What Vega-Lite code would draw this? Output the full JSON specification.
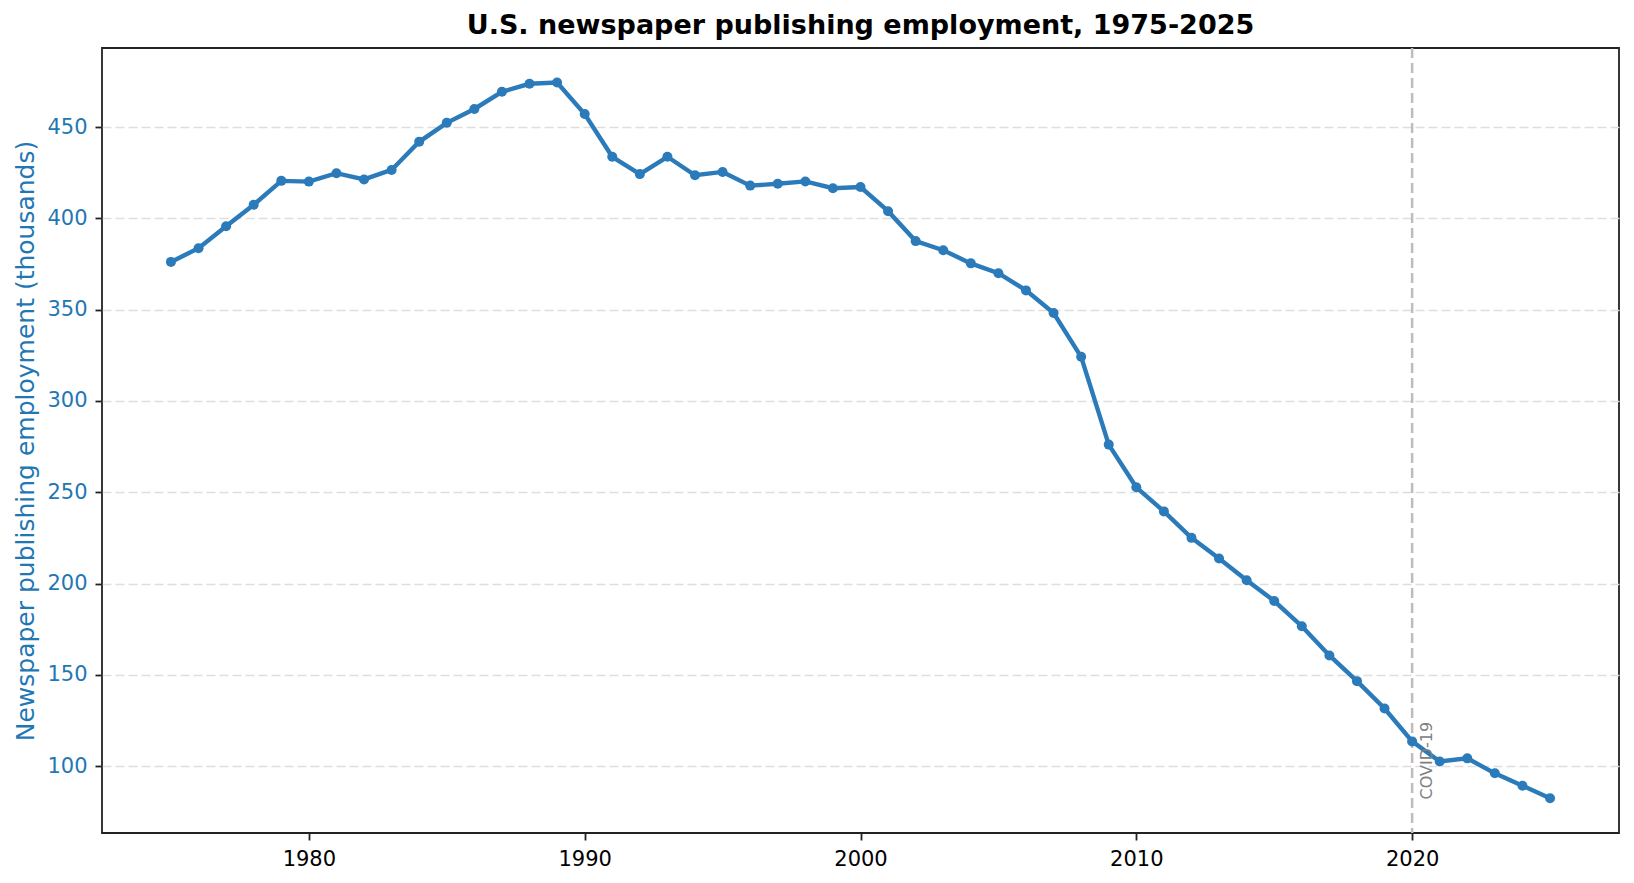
{
  "$schema": "https://vega.github.io/schema/vega-lite/v6.json",
  "autosize": {"type": "none"},
  "width": 1517,
  "height": 785,
  "padding": {"left": 102, "top": 48, "right": 15, "bottom": 50},
  "background": "white",
  "title": {
    "text": "U.S. newspaper publishing employment, 1975-2025",
    "font": "DejaVu Sans",
    "fontSize": 27,
    "fontWeight": "bold",
    "color": "black",
    "offset": 7,
    "anchor": "middle"
  },
  "config": {
    "view": {"stroke": "#222222", "strokeWidth": 1.8},
    "font": "DejaVu Sans"
  },
  "datasets": {
    "jobs": [
      {"year": 1975, "employment": 376.2},
      {"year": 1976, "employment": 383.7},
      {"year": 1977, "employment": 395.7},
      {"year": 1978, "employment": 407.5},
      {"year": 1979, "employment": 420.6},
      {"year": 1980, "employment": 420.2},
      {"year": 1981, "employment": 424.8},
      {"year": 1982, "employment": 421.4},
      {"year": 1983, "employment": 426.6},
      {"year": 1984, "employment": 442.0},
      {"year": 1985, "employment": 452.4},
      {"year": 1986, "employment": 460.0},
      {"year": 1987, "employment": 469.4},
      {"year": 1988, "employment": 473.8},
      {"year": 1989, "employment": 474.5},
      {"year": 1990, "employment": 457.2},
      {"year": 1991, "employment": 433.8},
      {"year": 1992, "employment": 424.3},
      {"year": 1993, "employment": 433.8},
      {"year": 1994, "employment": 423.7},
      {"year": 1995, "employment": 425.5},
      {"year": 1996, "employment": 418.0},
      {"year": 1997, "employment": 419.0},
      {"year": 1998, "employment": 420.3},
      {"year": 1999, "employment": 416.6},
      {"year": 2000, "employment": 417.2},
      {"year": 2001, "employment": 404.0},
      {"year": 2002, "employment": 387.6},
      {"year": 2003, "employment": 382.6},
      {"year": 2004, "employment": 375.4},
      {"year": 2005, "employment": 370.0},
      {"year": 2006, "employment": 360.6},
      {"year": 2007, "employment": 348.2},
      {"year": 2008, "employment": 324.2},
      {"year": 2009, "employment": 276.1},
      {"year": 2010, "employment": 252.7},
      {"year": 2011, "employment": 239.5},
      {"year": 2012, "employment": 225.0},
      {"year": 2013, "employment": 213.7},
      {"year": 2014, "employment": 201.8},
      {"year": 2015, "employment": 190.4},
      {"year": 2016, "employment": 176.6},
      {"year": 2017, "employment": 160.6},
      {"year": 2018, "employment": 146.5},
      {"year": 2019, "employment": 131.5},
      {"year": 2020, "employment": 113.5},
      {"year": 2021, "employment": 102.5},
      {"year": 2022, "employment": 104.2},
      {"year": 2023, "employment": 96.0},
      {"year": 2024, "employment": 89.2},
      {"year": 2025, "employment": 82.3}
    ],
    "events": [
      {"year": 2020, "label_x": 2020.25, "label_y": 81.7, "label": "COVID-19"}
    ]
  },
  "layer": [
    {
      "data": {"name": "events"},
      "mark": {"type": "rule", "color": "#bdbdbd", "strokeWidth": 2.5, "strokeDash": [10, 5]},
      "encoding": {
        "x": {"field": "year", "type": "quantitative", "scale": {"domain": [1972.5, 2027.5], "nice": false, "zero": false}}
      }
    },
    {
      "data": {"name": "jobs"},
      "mark": {"type": "line", "color": "#2b7bba", "strokeWidth": 4.4},
      "encoding": {
        "x": {
          "field": "year",
          "type": "quantitative",
          "scale": {"domain": [1972.5, 2027.5], "nice": false, "zero": false},
          "axis": {
            "title": null,
            "values": [1980, 1990, 2000, 2010, 2020],
            "format": "d",
            "grid": false,
            "domain": false,
            "tickColor": "#222222",
            "tickWidth": 1.8,
            "tickSize": 7,
            "labelFontSize": 21,
            "labelColor": "black",
            "labelPadding": 8
          }
        },
        "y": {
          "field": "employment",
          "type": "quantitative",
          "scale": {"domain": [63.3, 493.4], "nice": false, "zero": false},
          "axis": {
            "title": "Newspaper publishing employment (thousands)",
            "titleFontSize": 25,
            "titleFontWeight": "normal",
            "titleColor": "#1f77b4",
            "titlePadding": 8,
            "values": [100, 150, 200, 250, 300, 350, 400, 450],
            "grid": true,
            "gridColor": "#dedede",
            "gridDash": [9, 4],
            "gridWidth": 1.5,
            "domain": false,
            "tickColor": "#222222",
            "tickWidth": 1.8,
            "tickSize": 7,
            "labelFontSize": 21,
            "labelColor": "#1f77b4",
            "labelPadding": 8
          }
        }
      }
    },
    {
      "data": {"name": "jobs"},
      "mark": {"type": "point", "filled": true, "opacity": 1, "color": "#2b7bba", "size": 100},
      "encoding": {
        "x": {"field": "year", "type": "quantitative"},
        "y": {"field": "employment", "type": "quantitative"}
      }
    },
    {
      "data": {"name": "events"},
      "mark": {"type": "text", "angle": 270, "align": "left", "baseline": "top", "color": "#808080", "fontSize": 16},
      "encoding": {
        "x": {"field": "label_x", "type": "quantitative"},
        "y": {"field": "label_y", "type": "quantitative"},
        "text": {"field": "label"}
      }
    }
  ]
}
